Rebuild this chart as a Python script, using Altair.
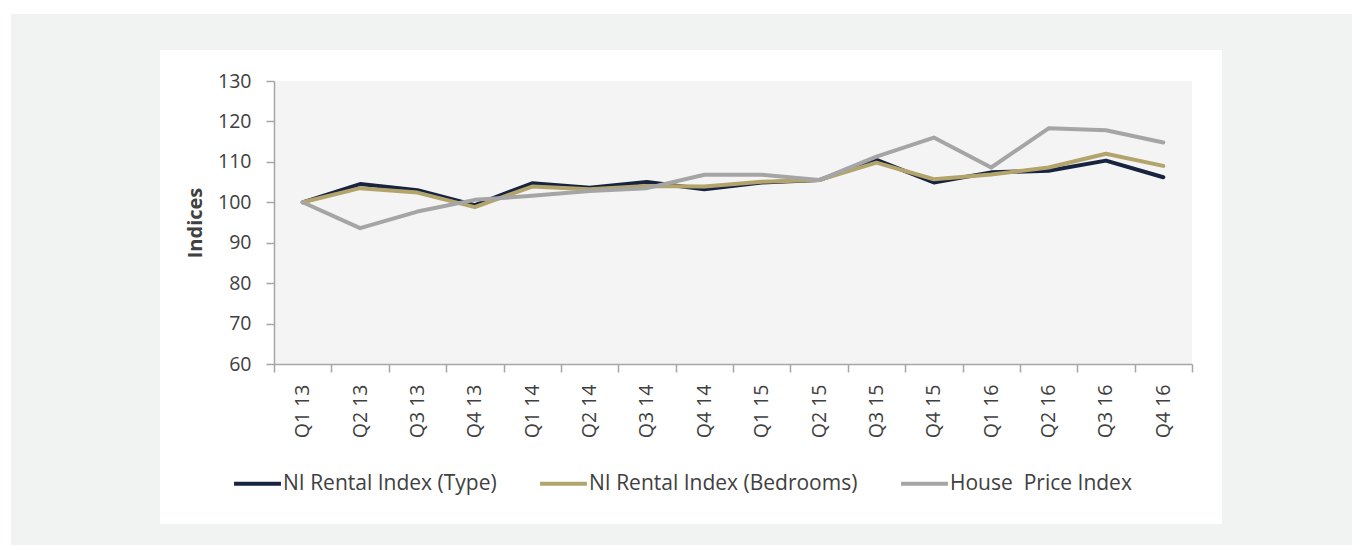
import altair as alt
import pandas as pd

quarters = ["Q1 13", "Q2 13", "Q3 13", "Q4 13", "Q1 14", "Q2 14", "Q3 14", "Q4 14",
            "Q1 15", "Q2 15", "Q3 15", "Q4 15", "Q1 16", "Q2 16", "Q3 16", "Q4 16"]
type_idx = [100.0, 104.5, 103.0, 99.3, 104.7, 103.6, 105.0, 103.2,
            104.9, 105.5, 110.5, 104.9, 107.4, 107.8, 110.3, 106.2]
bed_idx = [100.0, 103.5, 102.4, 98.8, 103.9, 103.2, 104.0, 103.9,
           105.1, 105.5, 109.8, 105.7, 106.9, 108.6, 112.0, 109.0]
hpi_idx = [100.0, 93.6, 97.7, 100.6, 101.6, 102.8, 103.5, 106.8,
           106.8, 105.5, 111.3, 116.0, 108.6, 118.3, 117.8, 114.8]
series_names = ["NI Rental Index (Type)", "NI Rental Index (Bedrooms)", "House\u00a0 Price Index"]
series_colors = ["#17233f", "#b3a46c", "#a5a5a5"]
y_ticks = [60, 70, 80, 90, 100, 110, 120, 130]

rows = []
for name, vals in zip(series_names, [type_idx, bed_idx, hpi_idx]):
    for q, v in zip(quarters, vals):
        rows.append({"Quarter": q, "Value": v, "Series": name})
df = pd.DataFrame(rows)

W, H = 918, 283
FONT = "Open Sans"
TXT = "#404040"
AX = "#a6a6a6"

dummy = pd.DataFrame({"d": [0]})

bg_gray = alt.Chart(dummy).mark_rect(color="#f1f2f2", clip=False).encode(
    x=alt.value(-263), x2=alt.value(1078), y=alt.value(-67), y2=alt.value(464))
bg_white = alt.Chart(dummy).mark_rect(color="#ffffff", clip=False).encode(
    x=alt.value(-114), x2=alt.value(948), y=alt.value(-31), y2=alt.value(443))
plot_bg = alt.Chart(dummy).mark_rect(color="#f4f4f4").encode(
    x=alt.value(0), x2=alt.value(W), y=alt.value(0), y2=alt.value(H))

x_enc = alt.X("Quarter:N", sort=quarters,
              scale=alt.Scale(paddingInner=0, paddingOuter=0),
              axis=alt.Axis(title=None, tickBand="extent", labelAngle=270,
                            tickSize=8, tickColor=AX, tickWidth=1.5,
                            domainColor=AX, domainWidth=1.5,
                            labelFontSize=19.5, labelColor=TXT, labelFont=FONT,
                            labelPadding=12, grid=False, zindex=1))
y_enc = alt.Y("Value:Q", scale=alt.Scale(domain=[60, 130], nice=False, zero=False),
              axis=alt.Axis(title="Indices", values=y_ticks, tickSize=8, tickColor=AX,
                            tickWidth=1.5, domainColor=AX, domainWidth=1.5,
                            labelFontSize=19.5, labelColor=TXT, labelFont=FONT,
                            labelPadding=15, grid=False, zindex=1,
                            titleFontSize=20, titleFont=FONT, titleFontWeight="bold",
                            titleColor=TXT, titlePadding=12))
color_enc = alt.Color("Series:N",
                      scale=alt.Scale(domain=series_names, range=series_colors),
                      legend=alt.Legend(title=None, orient="none", legendX=-42, legendY=377,
                                        direction="horizontal", symbolType="stroke",
                                        symbolStrokeWidth=4, symbolSize=2200,
                                        labelFontSize=21, labelFont=FONT, labelColor=TXT,
                                        labelLimit=500, zindex=1,
                                        labelOffset=0, columnPadding=35))

line_layers = []
for name in series_names:
    line_layers.append(
        alt.Chart(df).transform_filter(alt.datum.Series == name)
        .mark_line(strokeWidth=4, strokeCap="round", strokeJoin="round")
        .encode(x=x_enc, y=y_enc, color=color_enc)
    )

chart = alt.layer(bg_gray, bg_white, plot_bg, *line_layers).properties(
    width=W, height=H,
    padding={"left": 266, "top": 73, "right": 162, "bottom": 181},
    autosize=alt.AutoSizeParams(type="none"),
    background="#ffffff",
).configure_view(stroke=None)

chart.save("out.html", embed_options={"renderer": "svg", "actions": False})
